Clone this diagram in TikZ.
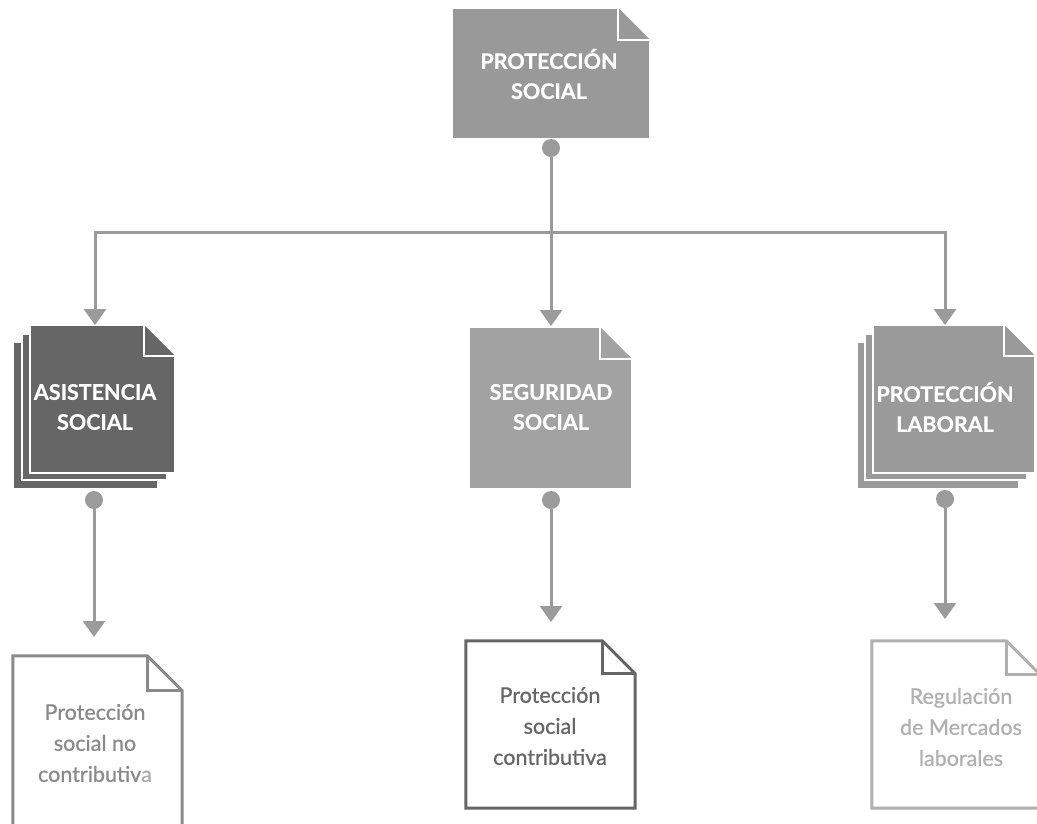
\documentclass[tikz,border=0pt]{standalone}
\usepackage{fontspec}
\setmainfont{Lato}
\newfontfamily\leaffont[FakeBold=0.8]{Lato}
\newfontfamily\headfont[BoldFeatures={FakeBold=0.6}]{Lato}
\usetikzlibrary{arrows.meta,calc}
\definecolor{conngray}{HTML}{9B9B9B}
\definecolor{topgray}{HTML}{999999}
\definecolor{seggray}{HTML}{A2A2A2}
\definecolor{asisgray}{HTML}{666666}
\definecolor{labgray}{HTML}{9A9A9A}
\definecolor{asisline}{HTML}{8A8A8A}
\definecolor{segline}{HTML}{666666}
\definecolor{labline}{HTML}{B0B0B0}
\definecolor{lighta}{HTML}{ADADAD}
\newcommand\foldfill[2]{%
  \fill[white] ($(#1.north east)+(-#2pt,0)$) -- (#1.north east) -- ($(#1.north east)+(0,-#2pt)$) -- cycle;
  \draw[white,line width=2pt] ($(#1.north east)+(-#2pt,0)$) |- ($(#1.north east)+(0,-#2pt)$);}
\newcommand\foldline[3]{%
  \draw[#3,line width=3pt,line join=miter] (#1.north west) -- ($(#1.north east)+(-#2pt,0)$) -- ($(#1.north east)+(0,-#2pt)$) |- (#1.south west) -- cycle;
  \draw[#3,line width=3pt] ($(#1.north east)+(-#2pt,0)$) |- ($(#1.north east)+(0,-#2pt)$);}
\begin{document}
\begin{tikzpicture}[x=1pt,y=-1pt,
  connline/.style={draw=conngray,line width=3pt},
  arr/.style={-{Triangle[width=22pt,length=16pt]}},
  dotnode/.style={circle,fill=conngray,minimum size=18pt,inner sep=0pt},
  boxnode/.style={rectangle,draw=white,line width=1.5pt,inner sep=0pt},
  plainbox/.style={rectangle,inner sep=0pt},
  headtext/.style={font=\headfont\bfseries\fontsize{21.5}{30}\selectfont,text=white,align=center,inner sep=0pt},
  leaftext/.style={font=\leaffont\fontsize{21.5}{31}\selectfont,align=center,inner sep=0pt},
]
\useasboundingbox[fill=white] (0,0) rectangle (1037,823);

% top node
\node[boxnode,fill=topgray,minimum width=198pt,minimum height=131pt] (top) at (551,73.5) {};
\foldfill{top}{33}
\node[headtext] (topT) at (549,74) {PROTECCIÓN\\SOCIAL};

% asistencia stack
\node[boxnode,fill=asisgray,minimum width=145pt,minimum height=147pt] (asisL3) at (85.5,415.5) {};
\node[boxnode,fill=asisgray,minimum width=145pt,minimum height=146pt] (asisL2) at (94.5,407) {};
\node[boxnode,fill=asisgray,minimum width=145pt,minimum height=148pt] (asis) at (102.5,399) {};
\foldfill{asis}{32}
\node[headtext] (asisT) at (95,407) {ASISTENCIA\\SOCIAL};

% seguridad
\node[boxnode,fill=seggray,minimum width=163pt,minimum height=162pt] (seg) at (550.5,408) {};
\foldfill{seg}{33}
\node[headtext] (segT) at (551,407) {SEGURIDAD\\SOCIAL};

% laboral stack
\node[boxnode,fill=labgray,minimum width=162pt,minimum height=147pt] (labL3) at (938,415.5) {};
\node[boxnode,fill=labgray,minimum width=162pt,minimum height=146pt] (labL2) at (946,407) {};
\node[boxnode,fill=labgray,minimum width=162pt,minimum height=148pt] (lab) at (954,399) {};
\foldfill{lab}{32}
\node[headtext] (labT) at (945,407) {PROTECCIÓN\\LABORAL};

% leaves
\node[plainbox,minimum width=169pt,minimum height=184pt] (asisC) at (97.5,748) {};
\foldline{asisC}{35}{asisline}
\node[leaftext,text=asisline] (asisCT) at (95,743) {Protección\\social no\\contributiv{\color{lighta}a}};

\node[plainbox,minimum width=169pt,minimum height=167pt] (segC) at (550.5,724.5) {};
\foldline{segC}{33}{segline}
\node[leaftext,text=segline] (segCT) at (550,726) {Protección\\social\\contributiva};

\node[plainbox,minimum width=168pt,minimum height=167pt] (labC) at (956,724.5) {};
\foldline{labC}{34}{labline}
\node[leaftext,text=labline] (labCT) at (961,727) {Regulación\\de Mercados\\laborales};

% connectors
\node[dotnode] (d0) at (551,148) {};
\node[dotnode] (d1) at (94,500) {};
\node[dotnode] (d2) at (551,500) {};
\node[dotnode] (d3) at (945,499) {};
\coordinate (hub) at (551,232);
\coordinate (asisIn) at (95,325);
\coordinate (segIn) at (551,326);
\coordinate (labIn) at (945,325);
\coordinate (asisCIn) at (94,637);
\coordinate (segCIn) at (551,622);
\coordinate (labCIn) at (945,619);
\draw[connline,arr] (d0) -- (segIn);
\draw[connline,arr] (hub) -| (asisIn);
\draw[connline,arr] (hub) -| (labIn);
\draw[connline,arr] (d1) -- (asisCIn);
\draw[connline,arr] (d2) -- (segCIn);
\draw[connline,arr] (d3) -- (labCIn);
\end{tikzpicture}
\end{document}
